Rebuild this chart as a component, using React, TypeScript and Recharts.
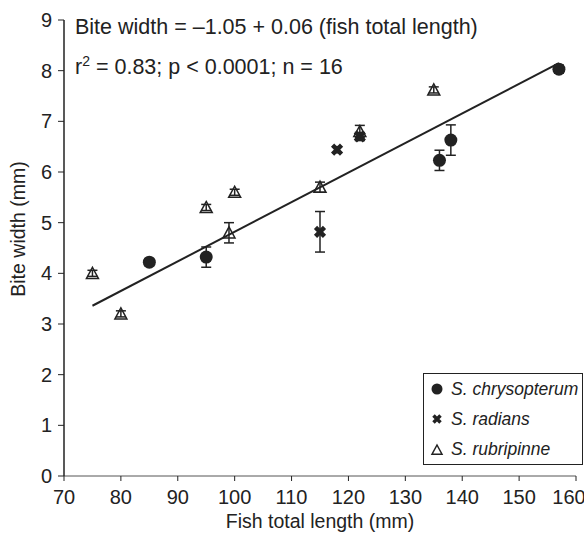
import { ScatterChart, Scatter, XAxis, YAxis, ErrorBar, ReferenceLine, Legend } from "recharts";

// fish total length (mm), bite width (mm), +/- error
const chrysX = [85, 95, 136, 138, 157];
const chrysY = [4.22, 4.32, 6.23, 6.63, 8.03];
const chrysErr = [0.07, 0.2, 0.2, 0.3, 0.08];

const radiansX = [115, 118, 122];
const radiansY = [4.82, 6.44, 6.7];
const radiansErr = [0.4, 0.06, 0.08];

const rubriX = [75, 80, 95, 99, 100, 115, 122, 135];
const rubriY = [4.0, 3.2, 5.3, 4.8, 5.6, 5.7, 6.8, 7.62];
const rubriErr = [0.06, 0.06, 0.06, 0.2, 0.06, 0.1, 0.12, 0.06];

// regression line end points as drawn
const fitX = [75, 157];
const fitY = [3.36, 8.15];

const xTicks = [70, 80, 90, 100, 110, 120, 130, 140, 150, 160];
const yTicks = [0, 1, 2, 3, 4, 5, 6, 7, 8, 9];

const FONT = '"Liberation Sans", Arial, Helvetica, sans-serif';
const INK = "#222";

const toPoints = (xs: number[], ys: number[], errs: number[]) =>
  xs.map((x, i) => ({ x, y: ys[i], err: errs[i] }));

const CircleMark = ({ cx, cy, r = 6.5 }: any) => <circle cx={cx} cy={cy} r={r} fill={INK} />;

const CrossMark = ({ cx, cy, s = 4.5, w = 4.5 }: any) => (
  <path
    d={`M${cx - s},${cy - s}L${cx + s},${cy + s}M${cx + s},${cy - s}L${cx - s},${cy + s}`}
    stroke={INK}
    strokeWidth={w}
    fill="none"
  />
);

const TriangleMark = ({ cx, cy, s = 6 }: any) => (
  <path
    d={`M${cx},${cy - s}L${cx + s},${cy + s * 0.85}L${cx - s},${cy + s * 0.85}Z`}
    fill="none"
    stroke={INK}
    strokeWidth={1.5}
  />
);

const legendItems = [
  { name: "S. chrysopterum", mark: <CircleMark cx={8} cy={8} r={5.5} /> },
  { name: "S. radians", mark: <CrossMark cx={8} cy={8} s={3.5} w={3.5} /> },
  { name: "S. rubripinne", mark: <TriangleMark cx={8} cy={9} s={5} /> },
];

const LegendBox = () => (
  <div
    style={{
      border: `1.5px solid ${INK}`,
      background: "#fff",
      width: 160,
      height: 92,
      boxSizing: "border-box",
      padding: "0 0 0 5px",
      fontFamily: FONT,
      fontStyle: "italic",
      fontSize: 17.5,
      color: INK,
      whiteSpace: "nowrap",
    }}
  >
    {legendItems.map((item) => (
      <div key={item.name} style={{ display: "flex", alignItems: "center", height: 30 }}>
        <svg width={16} height={16}>{item.mark}</svg>
        <span style={{ marginLeft: 6 }}>{item.name}</span>
      </div>
    ))}
  </div>
);

const tickStyle = { fill: INK, fontSize: 20, fontFamily: FONT };

export default function App() {
  return (
    <div style={{ position: "absolute", left: 0, top: 0, width: 584, height: 538, background: "#fff" }}>
      <ScatterChart width={584} height={538} margin={{ top: 20, right: 8, bottom: 0, left: 0 }}>
        <XAxis
          dataKey="x"
          type="number"
          domain={[70, 160]}
          ticks={xTicks}
          height={62}
          tickSize={5}
          tickMargin={9}
          tick={tickStyle}
          axisLine={{ stroke: "#555", strokeWidth: 1 }}
          tickLine={{ stroke: INK }}
          label={{ value: "Fish total length (mm)", position: "insideBottom", offset: 10, fill: INK, fontSize: 19.5, fontFamily: FONT }}
        />
        <YAxis
          dataKey="y"
          type="number"
          domain={[0, 9]}
          ticks={yTicks}
          width={64}
          tickSize={6}
          tickMargin={6}
          tick={tickStyle}
          axisLine={{ stroke: INK, strokeWidth: 1.5 }}
          tickLine={{ stroke: INK }}
          label={{ value: "Bite width (mm)", angle: -90, position: "center", dx: -14, dy: -19, fill: INK, fontSize: 19.5, fontFamily: FONT }}
        />
        <ReferenceLine
          segment={[
            { x: fitX[0], y: fitY[0] },
            { x: fitX[1], y: fitY[1] },
          ]}
          stroke={INK}
          strokeWidth={2}
        />
        <Scatter name="S. chrysopterum" data={toPoints(chrysX, chrysY, chrysErr)} shape={CircleMark} isAnimationActive={false}>
          <ErrorBar dataKey="err" direction="y" width={5} stroke={INK} strokeWidth={1.5} />
        </Scatter>
        <Scatter name="S. radians" data={toPoints(radiansX, radiansY, radiansErr)} shape={CrossMark} isAnimationActive={false}>
          <ErrorBar dataKey="err" direction="y" width={5} stroke={INK} strokeWidth={1.5} />
        </Scatter>
        <Scatter name="S. rubripinne" data={toPoints(rubriX, rubriY, rubriErr)} shape={TriangleMark} isAnimationActive={false}>
          <ErrorBar dataKey="err" direction="y" width={5} stroke={INK} strokeWidth={1.5} />
        </Scatter>
        <Legend
          layout="vertical"
          align="center"
          verticalAlign="middle"
          content={<LegendBox />}
          wrapperStyle={{ left: 423, top: 373, width: 160 }}
        />
      </ScatterChart>
      <div style={{ position: "absolute", left: 75, top: 15, fontFamily: FONT, fontSize: 21.5, lineHeight: "24px", color: INK, whiteSpace: "nowrap" }}>
        Bite width = –1.05 + 0.06 (fish total length)
      </div>
      <div style={{ position: "absolute", left: 75, top: 55, fontFamily: FONT, fontSize: 21.5, lineHeight: "24px", color: INK, whiteSpace: "nowrap" }}>
        r<sup style={{ fontSize: 14, lineHeight: 0 }}>2</sup> = 0.83; p &lt; 0.0001; n = 16
      </div>
    </div>
  );
}
